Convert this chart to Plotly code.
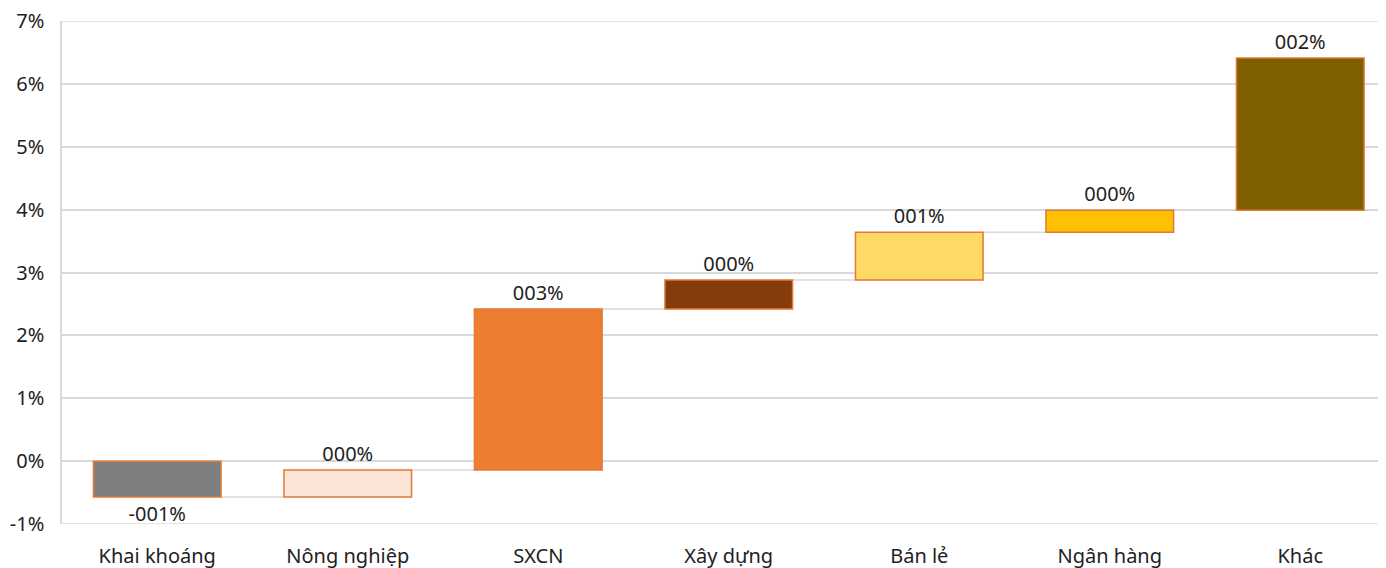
import plotly.graph_objects as go

categories = ["Khai khoáng", "Nông nghiệp", "SXCN", "Xây dựng", "Bán lẻ", "Ngân hàng", "Khác"]
deltas = [-0.57, 0.43, 2.56, 0.46, 0.76, 0.35, 2.42]
labels = ["-001%", "000%", "003%", "000%", "001%", "000%", "002%"]
colors = ["#7F7F7F", "#FBE5D6", "#ED7D31", "#843C0C", "#FFD966", "#FFC000", "#7F6000"]
y_ticks = [-1, 0, 1, 2, 3, 4, 5, 6, 7]
y_min, y_max = -1, 7

bases = []
ends = []
run = 0.0
for d in deltas:
    bases.append(run)
    run += d
    ends.append(run)

grid_col = "#D9D9D9"
font_fam = "Noto Sans, Open Sans, sans-serif"

fig = go.Figure()
fig.add_trace(go.Bar(
    x=list(range(len(categories))),
    y=deltas,
    base=bases,
    width=0.67,
    marker=dict(color=colors, line=dict(color="#E07A35", width=1.5)),
    text=labels,
    textposition="outside",
    textfont=dict(size=20, color="#222222", family=font_fam),
    cliponaxis=False,
    showlegend=False,
))

shapes = []
for i in range(len(categories) - 1):
    shapes.append(dict(
        type="line", xref="x", yref="y",
        x0=i + 0.335, x1=i + 1 - 0.335, y0=ends[i], y1=ends[i],
        line=dict(color=grid_col, width=1.5), layer="below",
    ))
# gridlines at the range edges
for yv in (y_min, y_max):
    shapes.append(dict(
        type="line", xref="paper", yref="y",
        x0=0, x1=1, y0=yv, y1=yv,
        line=dict(color=grid_col, width=1.5), layer="below",
    ))

fig.update_layout(
    width=1378, height=560,
    margin=dict(l=54, r=0, t=13, b=44),
    paper_bgcolor="white", plot_bgcolor="white",
    font=dict(family=font_fam, size=20, color="#222222"),
    shapes=shapes,
    xaxis=dict(
        range=[-0.5, 6.45],
        tickvals=list(range(len(categories))),
        ticktext=categories,
        showgrid=False, zeroline=False, showline=False,
        ticks="", ticklabelstandoff=18, automargin=False,
        tickfont=dict(size=20, color="#222222"),
    ),
    yaxis=dict(
        range=[y_min, y_max],
        tickvals=y_ticks,
        ticktext=[f"{v}%" for v in y_ticks],
        showgrid=True, gridcolor=grid_col, gridwidth=1.5,
        zeroline=False,
        showline=True, linecolor=grid_col, linewidth=1.5,
        ticks="", ticklabelstandoff=12, automargin=False,
        ticklabeloverflow="allow",
        tickfont=dict(size=20, color="#222222"),
    ),
)

fig.write_html("out.html")
